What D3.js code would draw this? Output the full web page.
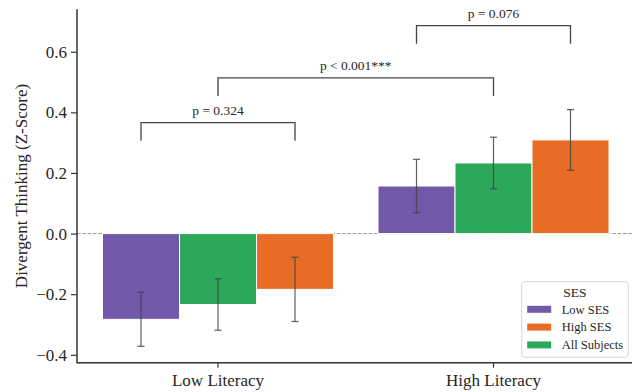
<!DOCTYPE html>
<html>
<head>
<meta charset="utf-8">
<script src="https://cdn.jsdelivr.net/npm/d3@7/dist/d3.min.js"></script>
<style>
  body { margin: 0; background: #fff; }
  svg, svg text { font-family: "Liberation Serif", "Times New Roman", serif; }
  svg text { fill: #262626; }
</style>
</head>
<body>
<div id="chart"></div>
<script>
const FONT = '"Liberation Serif", "Times New Roman", serif';

// literacy groups on the x axis
const categories = ['Low Literacy', 'High Literacy'];
// bar order inside each group
const seriesNames = ['Low SES', 'All Subjects', 'High SES'];
// legend order
const legendNames = ['Low SES', 'High SES', 'All Subjects'];

const lowSES = [-0.283, 0.157];
const lowSESErr = [0.089, 0.088];
const allSubjects = [-0.234, 0.233];
const allSubjectsErr = [0.085, 0.085];
const highSES = [-0.184, 0.309];
const highSESErr = [0.106, 0.100];

const yTicks = [-0.4, -0.2, 0.0, 0.2, 0.4, 0.6];

// significance brackets: [group, series] -> [group, series]
const bracketFrom = [['Low Literacy', 'Low SES'], ['Low Literacy', 'All Subjects'], ['High Literacy', 'Low SES']];
const bracketTo = [['Low Literacy', 'High SES'], ['High Literacy', 'All Subjects'], ['High Literacy', 'High SES']];
const bracketLevel = [0.366, 0.514, 0.686];
const bracketLabels = ['p = 0.324', 'p < 0.001***', 'p = 0.076'];

const colors = { 'Low SES': '#7158a9', 'All Subjects': '#2ca85a', 'High SES': '#e86b26' };

const width = 637, height = 392;
const svg = d3.select('#chart').append('svg')
  .attr('width', width)
  .attr('height', height)
  .attr('font-family', FONT);

const x = d3.scaleBand().domain(categories).range([80.25, 631.25]).padding(0);
const xInner = d3.scaleBand().domain(seriesNames).range([-115.5, 115.5]);
const y = d3.scaleLinear().domain([-0.426, 0.74]).range([362.7, 9.3]);

const cx = (g, s) => x(g) + x.bandwidth() / 2 + xInner(s) + xInner.bandwidth() / 2;

// rows of bars
const rows = [];
const seriesVals = { 'Low SES': [lowSES, lowSESErr], 'All Subjects': [allSubjects, allSubjectsErr], 'High SES': [highSES, highSESErr] };
categories.forEach((g, i) => {
  seriesNames.forEach(s => {
    rows.push({ group: g, series: s, value: seriesVals[s][0][i], err: seriesVals[s][1][i] });
  });
});

// zero line
svg.append('line')
  .attr('x1', 77).attr('x2', 632)
  .attr('y1', y(0)).attr('y2', y(0))
  .attr('stroke', '#999')
  .attr('stroke-width', 1)
  .attr('stroke-dasharray', '3.7,1.6');

// bars
svg.selectAll('rect.bar')
  .data(rows)
  .enter()
  .append('rect')
  .attr('class', 'bar')
  .attr('x', d => x(d.group) + x.bandwidth() / 2 + xInner(d.series))
  .attr('width', xInner.bandwidth())
  .attr('y', d => y(Math.max(0, d.value)))
  .attr('height', d => Math.abs(y(d.value) - y(0)))
  .attr('fill', d => colors[d.series])
  .attr('stroke', '#fff')
  .attr('stroke-width', 1);

// error bars
const eb = svg.selectAll('g.err')
  .data(rows)
  .enter()
  .append('g')
  .attr('class', 'err')
  .attr('stroke', '#444')
  .attr('stroke-opacity', 0.85)
  .attr('stroke-width', 1.2);

eb.append('line')
  .attr('x1', d => cx(d.group, d.series)).attr('x2', d => cx(d.group, d.series))
  .attr('y1', d => y(d.value - d.err)).attr('y2', d => y(d.value + d.err));
eb.append('line')
  .attr('x1', d => cx(d.group, d.series) - 3.5).attr('x2', d => cx(d.group, d.series) + 3.5)
  .attr('y1', d => y(d.value - d.err)).attr('y2', d => y(d.value - d.err));
eb.append('line')
  .attr('x1', d => cx(d.group, d.series) - 3.5).attr('x2', d => cx(d.group, d.series) + 3.5)
  .attr('y1', d => y(d.value + d.err)).attr('y2', d => y(d.value + d.err));

// brackets
const tip = 0.06;
bracketLabels.forEach((lab, i) => {
  const x1 = cx(bracketFrom[i][0], bracketFrom[i][1]);
  const x2 = cx(bracketTo[i][0], bracketTo[i][1]);
  const yl = bracketLevel[i];
  svg.append('path')
    .attr('d', `M${x1},${y(yl - tip)}V${y(yl)}H${x2}V${y(yl - tip)}`)
    .attr('fill', 'none')
    .attr('stroke', '#444')
    .attr('stroke-width', 1.3);
  svg.append('text')
    .attr('x', (x1 + x2) / 2)
    .attr('y', y(yl) - 8)
    .attr('text-anchor', 'middle')
    .attr('font-family', FONT)
    .style('font-size', '13.5px')
    .text(lab);
});

// axes
const yAxis = svg.append('g')
  .attr('transform', 'translate(77,0)')
  .call(d3.axisLeft(y).tickValues(yTicks).tickSize(6).tickPadding(4)
    .tickFormat(d => d3.format('.1f')(d).replace('-', '\u2212')))
  .attr('font-family', FONT);
yAxis.select('.domain').remove();
yAxis.selectAll('.tick line').attr('stroke', '#333').attr('stroke-width', 1.2);
yAxis.selectAll('.tick text').style('font-size', '17px').attr('fill', '#262626');

const xAxis = svg.append('g')
  .attr('transform', 'translate(0,362.7)')
  .call(d3.axisBottom(x).tickSize(5).tickPadding(6))
  .attr('font-family', FONT);
xAxis.select('.domain').remove();
xAxis.selectAll('.tick line').attr('stroke', '#333').attr('stroke-width', 1.2);
xAxis.selectAll('.tick text').style('font-size', '17px').attr('fill', '#262626');

// spines
svg.append('line')
  .attr('x1', 77).attr('x2', 77).attr('y1', 9.3).attr('y2', 362.7)
  .attr('stroke', '#333').attr('stroke-width', 1.5);
svg.append('line')
  .attr('x1', 76.25).attr('x2', 632).attr('y1', 362.7).attr('y2', 362.7)
  .attr('stroke', '#333').attr('stroke-width', 1.5);

// y label
svg.append('text')
  .attr('transform', `translate(27,${(9.3 + 362.7) / 2}) rotate(-90)`)
  .attr('text-anchor', 'middle')
  .style('font-size', '17px')
  .text('Divergent Thinking (Z-Score)');

// legend
const legend = svg.append('g').attr('transform', 'translate(521.7,281.7)');
legend.append('rect')
  .attr('width', 106.6).attr('height', 75.6)
  .attr('rx', 3)
  .attr('fill', '#fff').attr('fill-opacity', 0.8)
  .attr('stroke', '#d6d6d6');
legend.append('text')
  .attr('x', 53.3).attr('y', 15)
  .attr('text-anchor', 'middle')
  .style('font-size', '13.5px')
  .text('SES');
const items = legend.selectAll('.legend-item')
  .data(legendNames)
  .enter()
  .append('g')
  .attr('class', 'legend-item')
  .attr('transform', (d, i) => `translate(5.5, ${27.6 + i * 17.8})`);
items.append('rect')
  .attr('y', -3.5)
  .attr('width', 24).attr('height', 7)
  .attr('fill', d => colors[d]);
items.append('text')
  .attr('x', 34.5).attr('y', 4.3)
  .style('font-size', '12.5px')
  .text(d => d);
</script>
</body>
</html>
